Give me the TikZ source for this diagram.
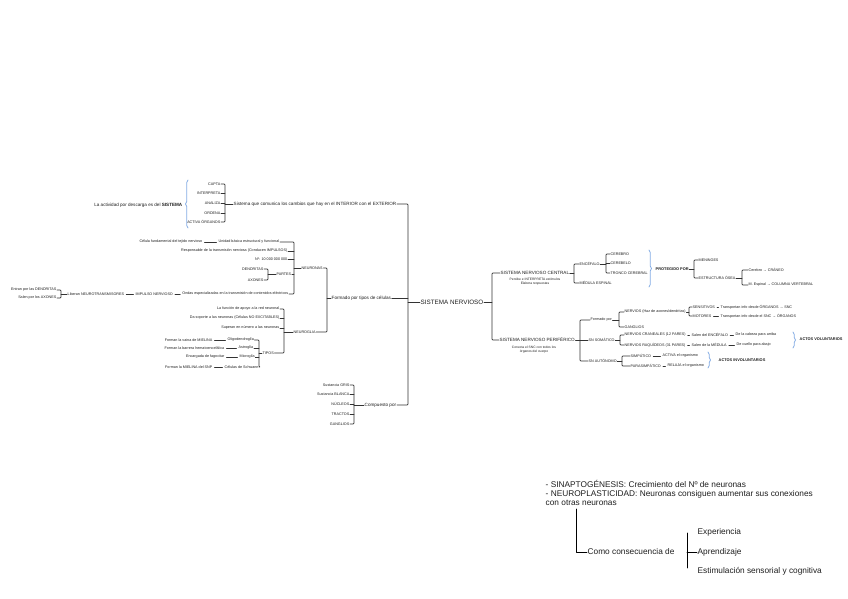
\documentclass[tikz,border=0pt]{standalone}
\usepackage{fontspec}
\setmainfont{Liberation Sans}
\usepackage{tikz}
\usetikzlibrary{decorations.pathreplacing}
\definecolor{qqqqqq}{rgb}{0.12,0.12,0.12}
\definecolor{zzzzzz}{rgb}{0.2,0.2,0.2}
\definecolor{uuccff}{rgb}{0.52,0.68,0.9}
\tikzset{every node/.style={inner sep=0.5pt,text=qqqqqq}}
\tikzset{ts/.style={font=\fontsize{3.7}{4.3}\selectfont}}
\tikzset{tx/.style={font=\fontsize{3.3}{3.9}\selectfont}}
\tikzset{tm/.style={font=\fontsize{4.6}{5.2}\selectfont}}
\tikzset{tb/.style={font=\fontsize{3.9}{4.5}\selectfont\bfseries}}
\tikzset{tl/.style={font=\fontsize{6.3}{7}\selectfont}}
\tikzset{tbig/.style={font=\fontsize{8.3}{9}\selectfont}}
\tikzset{ln/.style={line width=0.7pt,draw=zzzzzz,rounded corners=0.8pt}}
\tikzset{lnb/.style={line width=0.9pt,draw=black}}
\tikzset{link/.style={ln,shorten <=1.5pt,shorten >=1.5pt}}
\tikzset{bluebr/.style={decorate,decoration={brace,amplitude=2.5pt},draw=uuccff,line width=0.8pt}}

\begin{document}
\begin{tikzpicture}[line cap=round,line join=round,x=1pt,y=-1pt]
                    \useasboundingbox (0,0) rectangle (848,599);
                    \fill[white] (0,0) rectangle (848,599);

                    \node[tm,anchor=east] (lo) at (183,205) {La actividad por descarga es del \textbf{SISTEMA}};
                    \draw[bluebr] (188,228) -- (188,180);
                    \node[ts,anchor=east] (capta) at (221,184) {CAPTA};
                    \node[ts,anchor=east] (interp) at (221,193) {INTERPRETA};
                    \node[ts,anchor=east] (anal) at (221,203) {ANALIZA};
                    \node[ts,anchor=east] (orden) at (221,213) {ORDENA};
                    \node[ts,anchor=east] (activa) at (221,222) {ACTIVA ÓRGANOS};
                    \node[tm,anchor=west] (sist) at (233,204) {Sistema que comunica los cambios que hay en el INTERIOR con el EXTERIOR};
                    \coordinate (bA) at (225,0);
                    \draw[ln] (capta.east) -| (bA |- activa.east) -- (activa.east);
                    \draw[ln] (interp.east) -- (interp.east -| bA) (anal.east) -- (anal.east -| bA) (orden.east) -- (orden.east -| bA);
                    \draw[ln] (bA |- sist.west) -- (sist.west);

                    \node[tl,anchor=west] (sn) at (420,302) {SISTEMA NERVIOSO};
                    \node[tm,anchor=west] (form) at (331,298) {Formado por tipos de células};
                    \node[tm,anchor=west] (comp) at (364,405) {Compuesto por};
                    \coordinate (bM) at (408,0);
                    \draw[ln] (sist.east) -| (bM |- comp.east) -- (comp.east);
                    \draw[ln] (form.east) -- (form.east -| bM);
                    \draw[ln] (bM |- sn.west) -- (sn.west);

                    \node[ts,anchor=east] (gris) at (350,385) {Sustancia GRIS};
                    \node[ts,anchor=east] (blanca) at (350,394) {Sustancia BLANCA};
                    \node[ts,anchor=east] (nucl) at (350,404) {NÚCLEOS};
                    \node[ts,anchor=east] (tract) at (350,414) {TRACTOS};
                    \node[ts,anchor=east] (gangl) at (350,424) {GANGLIOS};
                    \coordinate (bC) at (354,0);
                    \draw[ln] (gris.east) -| (bC |- gangl.east) -- (gangl.east);
                    \draw[ln] (blanca.east) -- (blanca.east -| bC) (nucl.east) -- (nucl.east -| bC) (tract.east) -- (tract.east -| bC);
                    \draw[ln] (bC |- comp.west) -- (comp.west);

                    \node[ts,anchor=west] (neur) at (301,268) {NEURONAS};
                    \node[ts,anchor=west] (glia) at (293,332) {NEUROGLIA};
                    \coordinate (bF) at (327,0);
                    \draw[ln] (neur.east) -| (bF |- glia.east) -- (glia.east);
                    \draw[ln] (bF |- form.west) -- (form.west);

                    \node[ts,anchor=east] (cel) at (203,242) {Célula fundamental del tejido nervioso};
                    \node[ts,anchor=west] (unid) at (218,242) {Unidad básica estructural y funcional};
                    \node[ts,anchor=east] (resp) at (288,251) {Responsable de la transmisión nerviosa (Conducen IMPULSOS)};
                    \node[ts,anchor=east] (num) at (288,259) {Nº: 10 000 000 000};
                    \node[ts,anchor=west] (partes) at (276,274) {PARTES};
                    \node[ts,anchor=east] (dend) at (264,269) {DENDRITAS};
                    \node[ts,anchor=east] (axon) at (264,280) {AXONES};
                    \coordinate (bP) at (268,0);
                    \draw[ln] (dend.east) -| (bP |- axon.east) -- (axon.east);
                    \draw[ln] (bP |- partes.west) -- (partes.west);
                    \node[ts,anchor=east] (ondas) at (289,294) {Ondas especializadas en la transmisión de contenidos eléctricos};
                    \node[ts,anchor=west] (imp) at (135,294) {IMPULSO NERVIOSO};
                    \coordinate (bN) at (294,0);
                    \draw[ln] (unid.east) -| (bN |- ondas.east) -- (ondas.east);
                    \draw[ln] (resp.east) -- (resp.east -| bN) (num.east) -- (num.east -| bN) (partes.east) -- (partes.east -| bN);
                    \draw[ln] (bN |- neur.west) -- (neur.west);
                    \draw[link] (cel) -- (unid);
                    \draw[link] (imp) -- (ondas);

                    \node[ts,anchor=east] (entran) at (57,290) {Entran por las DENDRITAS};
                    \node[ts,anchor=east] (salen) at (57,298) {Salen por los AXONES};
                    \node[ts,anchor=west] (neurot) at (67,294) {Liberan NEUROTRANSMISORES};
                    \coordinate (bE) at (61,0);
                    \draw[ln] (entran.east) -| (bE |- salen.east) -- (salen.east);
                    \draw[ln] (bE |- neurot.west) -- (neurot.west);
                    \draw[link] (neurot) -- (imp);

                    \node[ts,anchor=east] (apoyo) at (280,309) {La función de apoyo a la red neuronal};
                    \node[ts,anchor=east] (noexc) at (280,318) {Da soporte a las neuronas (Células NO EXCITABLES)};
                    \node[ts,anchor=east] (super) at (280,328) {Superan en número a las neuronas};
                    \node[ts,anchor=west] (tipos) at (262,353) {TIPOS};
                    \coordinate (bG) at (284,0);
                    \draw[ln] (apoyo.east) -| (bG |- tipos.east) -- (tipos.east);
                    \draw[ln] (noexc.east) -- (noexc.east -| bG) (super.east) -- (super.east -| bG);
                    \draw[ln] (bG |- glia.west) -- (glia.west);

                    \node[ts,anchor=east] (vaina) at (213,340) {Forman la vaina de MIELINA};
                    \node[ts,anchor=west] (oligo) at (227,340) {Oligodendroglía};
                    \node[ts,anchor=east] (barr) at (225,348) {Forman la barrera hematoencefálica};
                    \node[ts,anchor=west] (astro) at (238,348) {Astroglía};
                    \node[ts,anchor=east] (fago) at (225,357) {Encargada de fagocitar};
                    \node[ts,anchor=west] (micro) at (239,357) {Microglía};
                    \node[ts,anchor=east] (snpm) at (213,367) {Forman la MIELINA del SNP};
                    \node[ts,anchor=west] (schw) at (224,367) {Células de Schwann};
                    \coordinate (bT) at (259,0);
                    \draw[ln] (oligo.east) -| (bT |- schw.east) -- (schw.east);
                    \draw[ln] (astro.east) -- (astro.east -| bT) (micro.east) -- (micro.east -| bT);
                    \draw[ln] (bT |- tipos.west) -- (tipos.west);
                    \draw[link] (vaina) -- (oligo);
                    \draw[link] (barr) -- (astro);
                    \draw[link] (fago) -- (micro);
                    \draw[link] (snpm) -- (schw);

                    \node[tm,anchor=west] (snc) at (500,273) {SISTEMA NERVIOSO CENTRAL};
                    \node[tx,align=center] (sncd) at (535,282) {Percibe e INTERPRETA estímulos\\Elabora respuestas};
                    \node[tm,anchor=west] (snp) at (499,340) {SISTEMA NERVIOSO PERIFÉRICO};
                    \node[tx,align=center] (snpd) at (534,350) {Conecta el SNC con todos los\\órganos del cuerpo};
                    \coordinate (bS) at (492,0);
                    \draw[ln] (snc.west) -| (bS |- snp.west) -- (snp.west);
                    \draw[ln] (sn.east) -- (sn.east -| bS);

                    \node[ts,anchor=west] (enc) at (579,264) {ENCÉFALO};
                    \node[ts,anchor=west] (med) at (579,283) {MÉDULA ESPINAL};
                    \coordinate (bSC) at (574,0);
                    \draw[ln] (enc.west) -| (bSC |- med.west) -- (med.west);
                    \draw[ln] (snc.east) -- (snc.east -| bSC);
                    \node[ts,anchor=west] (cereb) at (610,254) {CEREBRO};
                    \node[ts,anchor=west] (cerebl) at (610,263) {CEREBELO};
                    \node[ts,anchor=west] (tronco) at (610,273) {TRONCO CEREBRAL};
                    \coordinate (bEn) at (606,0);
                    \draw[ln] (cereb.west) -| (bEn |- tronco.west) -- (tronco.west);
                    \draw[ln] (cerebl.west) -- (cerebl.west -| bEn);
                    \draw[ln] (enc.east) -- (enc.east -| bEn);

                    \draw[bluebr] (649,250) -- (649,287);
                    \node[tb,anchor=west] (prot) at (655,269) {PROTEGIDO POR};
                    \node[ts,anchor=west] (menin) at (698,260) {MENINGES};
                    \node[ts,anchor=west] (estr) at (698,278) {ESTRUCTURA ÓSEA};
                    \coordinate (bPr) at (694,0);
                    \draw[ln] (menin.west) -| (bPr |- estr.west) -- (estr.west);
                    \draw[ln] (prot.east) -- (prot.east -| bPr);
                    \node[ts,anchor=west] (crane) at (748,270) {Cerebro → CRÁNEO};
                    \node[ts,anchor=west] (colum) at (748,285) {M. Espinal → COLUMNA VERTEBRAL};
                    \coordinate (bEs) at (742,0);
                    \draw[ln] (crane.west) -| (bEs |- colum.west) -- (colum.west);
                    \draw[ln] (estr.east) -- (estr.east -| bEs);

                    \node[ts,anchor=west] (formp) at (590,320) {Formado por};
                    \node[ts,anchor=west] (somat) at (588,340) {SN SOMÁTICO};
                    \node[ts,anchor=west] (auton) at (588,361) {SN AUTÓNOMO};
                    \coordinate (bSP) at (580,0);
                    \draw[ln] (formp.west) -| (bSP |- auton.west) -- (auton.west);
                    \draw[ln] (somat.west) -- (somat.west -| bSP);
                    \draw[ln] (snp.east) -- (snp.east -| bSP);

                    \node[ts,anchor=west] (nerv) at (624,312) {NERVIOS (Haz de axones/dendritas)};
                    \node[ts,anchor=west] (gangp) at (624,327) {GANGLIOS};
                    \coordinate (bFp) at (619,0);
                    \draw[ln] (nerv.west) -| (bFp |- gangp.west) -- (gangp.west);
                    \draw[ln] (formp.east) -- (formp.east -| bFp);
                    \node[ts,anchor=west] (sensi) at (692,307) {SENSITIVOS};
                    \node[ts,anchor=west] (motor) at (692,316) {MOTORES};
                    \coordinate (bNv) at (689,0);
                    \draw[ln] (sensi.west) -| (bNv |- motor.west) -- (motor.west);
                    \draw[ln] (nerv.east) -- (nerv.east -| bNv);
                    \node[ts,anchor=west] (tsens) at (720,307) {Transportan info desde ÓRGANOS → SNC};
                    \node[ts,anchor=west] (tmot) at (720,316) {Transportan info desde el SNC → ÓRGANOS};
                    \draw[link] (sensi) -- (tsens);
                    \draw[link] (motor) -- (tmot);

                    \node[ts,anchor=west] (cran) at (624,335) {NERVIOS CRANEALES (12 PARES)};
                    \node[ts,anchor=west] (raqu) at (624,345) {NERVIOS RAQUÍDEOS (31 PARES)};
                    \coordinate (bSo) at (620,0);
                    \draw[ln] (cran.west) -| (bSo |- raqu.west) -- (raqu.west);
                    \draw[ln] (somat.east) -- (somat.east -| bSo);
                    \node[ts,anchor=west] (salenc) at (691,335) {Salen del ENCÉFALO};
                    \node[ts,anchor=west] (cabeza) at (735,335) {De la cabeza para arriba};
                    \node[ts,anchor=west] (salmed) at (691,345) {Salen de la MÉDULA};
                    \node[ts,anchor=west] (cuello) at (736,345) {De cuello para abajo};
                    \draw[link] (cran) -- (salenc);
                    \draw[link] (salenc) -- (cabeza);
                    \draw[link] (raqu) -- (salmed);
                    \draw[link] (salmed) -- (cuello);
                    \draw[bluebr] (793,332) -- (793,348);
                    \node[tb,anchor=west] (volun) at (799,339) {ACTOS VOLUNTARIOS};

                    \node[ts,anchor=west] (simp) at (630,356) {SIMPÁTICO};
                    \node[ts,anchor=west] (parasi) at (630,366) {PARASIMPÁTICO};
                    \coordinate (bAu) at (622,0);
                    \draw[ln] (simp.west) -| (bAu |- parasi.west) -- (parasi.west);
                    \draw[ln] (auton.east) -- (auton.east -| bAu);
                    \node[ts,anchor=west] (activ) at (662,356) {ACTIVA el organismo};
                    \node[ts,anchor=west] (relaj) at (667,366) {RELAJA el organismo};
                    \draw[link] (simp) -- (activ);
                    \draw[link] (parasi) -- (relaj);
                    \draw[bluebr] (708,352) -- (708,368);
                    \node[tb,anchor=west] (invol) at (718,360) {ACTOS INVOLUNTARIOS};

                    \node[tbig,anchor=north west,align=left] (plast) at (545,480) {- SINAPTOGÉNESIS: Crecimiento del Nº de neuronas\\- NEUROPLASTICIDAD: Neuronas consiguen aumentar sus conexiones\\con otras neuronas};
                    \coordinate (cq) at (576,509);
                    \node[tbig,anchor=west] (como) at (587,552) {Como consecuencia de};
                    \draw[lnb] (cq) |- (como.west);
                    \node[tbig,anchor=west] (exper) at (697,532) {Experiencia};
                    \node[tbig,anchor=west] (apren) at (697,552) {Aprendizaje};
                    \node[tbig,anchor=west] (estim) at (697,571) {Estimulación sensorial y cognitiva};
                    \coordinate (bCoT) at (687,533);
                    \coordinate (bCoB) at (687,568);
                    \draw[lnb] (bCoT) -- (bCoB);
                    \draw[lnb] (bCoT |- apren.west) -- (apren.west);
                    \end{tikzpicture}
\end{document}
